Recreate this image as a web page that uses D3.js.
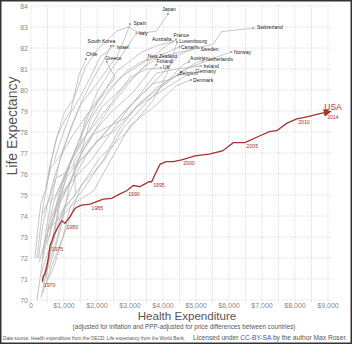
<!DOCTYPE html>
<html lang="en">
<head>
<meta charset="UTF-8">
<title>Life expectancy vs health expenditure</title>
<style>
  body { margin: 0; background: #fff; }
  svg { display: block; font-family: "Liberation Sans", Arial, sans-serif; }
</style>
</head>
<body>
<div class="chart"></div>
<script src="https://d3js.org/d3.v7.min.js"></script>
<script>
var w = 352, h = 344;

// country paths, roughly every 5 years up to 2014 (spending in $, life expectancy in years)
var countries = ["Japan", "Spain", "Italy", "South Korea", "Israel", "Chile", "Greece",
    "Australia", "France", "Luxembourg", "Canada", "Sweden", "Switzerland", "Norway",
    "New Zealand", "Finland", "UK", "Austria", "Netherlands", "Ireland", "Belgium",
    "Germany", "Denmark"];

var spending = [
    [180, 350, 550, 750, 1000, 1300, 1650, 2050, 2600, 2950, 3300, 3800, 4150],
    [120, 200, 300, 450, 600, 900, 1150, 1500, 1950, 2600, 2850, 3000],
    [250, 450, 700, 950, 1300, 1600, 2000, 2400, 2900, 3100, 3200],
    [180, 300, 450, 650, 850, 1200, 1550, 1900, 2200, 2420],
    [700, 900, 1200, 1500, 1800, 2100, 2300, 2500],
    [450, 600, 800, 1000, 1200, 1450, 1667],
    [230, 350, 500, 700, 950, 1250, 1600, 2000, 2550, 2400, 2293],
    [450, 650, 850, 1050, 1300, 1600, 2050, 2600, 3350, 3800, 4303],
    [350, 550, 850, 1150, 1500, 1900, 2400, 2950, 3600, 4000, 4394],
    [350, 600, 850, 1100, 1500, 2100, 2900, 3700, 4100, 4300, 4424],
    [500, 650, 850, 1100, 1400, 1700, 2150, 2700, 3350, 4000, 4500],
    [550, 750, 1000, 1250, 1500, 1650, 2100, 2700, 3500, 4500, 5090],
    [550, 850, 1200, 1500, 2000, 2600, 3300, 4000, 4500, 5000, 5515, 5778, 6740],
    [350, 550, 750, 1000, 1350, 1900, 2900, 3800, 4700, 5500, 6075],
    [550, 700, 850, 1000, 1150, 1500, 1800, 2300, 2900, 3300, 3535],
    [350, 550, 750, 1000, 1350, 1300, 1750, 2400, 3100, 3600, 3800],
    [350, 450, 550, 700, 950, 1250, 1700, 2300, 3000, 3500, 3940],
    [300, 500, 750, 1000, 1600, 2200, 2800, 3500, 4300, 4600, 4790],
    [550, 800, 1100, 1400, 1750, 2000, 2500, 3300, 4600, 5000, 5210],
    [300, 450, 700, 750, 900, 1200, 1800, 2800, 3800, 4400, 5136],
    [350, 550, 750, 1050, 1400, 1750, 2200, 2900, 3700, 4200, 4470],
    [400, 700, 950, 1200, 1600, 2200, 2700, 3200, 4000, 4600, 4879],
    [450, 750, 1000, 1300, 1600, 1900, 2500, 3000, 3800, 4400, 4848]
];

var lifeExp = [
    [72.0, 74.3, 76.1, 77.6, 78.9, 79.6, 81.1, 82.0, 82.8, 83.0, 82.7, 82.8, 83.62],
    [72.0, 73.3, 74.6, 75.3, 76.3, 76.9, 77.9, 79.3, 80.2, 81.6, 82.5, 83.14],
    [71.8, 73.0, 74.0, 75.5, 77.0, 78.2, 79.9, 80.9, 82.0, 82.5, 82.7],
    [70.0, 71.3, 73.3, 75.0, 76.5, 78.2, 79.5, 80.6, 81.4, 82.1],
    [76.6, 77.6, 78.9, 79.7, 80.6, 81.6, 81.8, 82.1],
    [75.4, 76.6, 77.8, 78.5, 79.0, 80.7, 81.48],
    [72.0, 73.5, 74.6, 75.8, 77.0, 77.8, 78.6, 79.5, 80.6, 81.0, 81.35],
    [71.0, 72.8, 74.6, 75.8, 77.0, 78.1, 79.5, 80.9, 81.8, 82.1, 82.31],
    [72.2, 73.5, 74.5, 75.5, 76.9, 78.0, 79.2, 80.3, 81.4, 82.0, 82.4],
    [70.3, 71.5, 72.5, 73.5, 75.4, 76.8, 78.0, 79.5, 80.7, 81.6, 82.29],
    [72.7, 73.8, 75.1, 76.3, 77.3, 77.9, 79.2, 80.0, 81.0, 81.7, 82.06],
    [74.6, 75.0, 75.8, 76.7, 77.5, 78.7, 79.6, 80.6, 81.4, 81.8, 82.0],
    [73.0, 74.8, 75.7, 76.7, 77.5, 78.6, 79.7, 80.8, 81.7, 82.0, 82.17, 82.78, 82.94],
    [74.1, 74.8, 75.8, 76.0, 76.5, 77.9, 78.7, 80.1, 81.0, 81.5, 81.82],
    [71.5, 72.3, 73.1, 74.1, 75.4, 76.9, 78.6, 79.8, 80.9, 81.3, 81.46],
    [70.8, 72.1, 73.7, 74.4, 75.0, 76.6, 77.7, 78.9, 79.9, 80.9, 81.2],
    [71.9, 72.6, 73.7, 74.7, 75.7, 76.7, 77.9, 79.1, 80.6, 81.0, 81.05],
    [70.1, 71.6, 72.7, 74.3, 75.6, 76.6, 78.2, 79.4, 80.7, 81.2, 81.35],
    [73.7, 74.6, 75.9, 76.5, 77.0, 77.6, 78.0, 79.4, 80.9, 81.3, 81.4],
    [71.2, 72.0, 72.9, 73.5, 74.8, 75.6, 76.6, 78.8, 80.8, 81.0, 81.14],
    [71.0, 72.1, 73.3, 74.6, 76.1, 77.1, 77.9, 79.1, 80.3, 80.5, 80.71],
    [70.6, 71.6, 72.9, 74.5, 75.3, 76.7, 78.2, 79.2, 80.0, 80.6, 80.83],
    [73.3, 73.7, 74.1, 74.6, 74.9, 75.2, 76.9, 78.3, 79.3, 80.2, 80.48]
];

// USA, yearly 1970-2014
var usaYears = d3.range(1970, 2015);
var usaSpending = [342, 370, 424, 480, 525, 576, 640, 697, 828, 929,
    1030, 1182, 1333, 1430, 1535, 1788, 1990, 2192, 2444, 2697,
    2899, 3100, 3303, 3485, 3570, 3657, 3780, 3909, 4091, 4313,
    4566, 4970, 5400, 5800, 6130, 6485, 6838, 7222, 7444, 7748,
    8051, 8250, 8455, 8750, 9061];
var usaLife = [70.87, 71.14, 71.24, 71.6, 71.98, 72.6, 72.85, 73.1, 73.5, 73.78,
    73.65, 73.97, 74.36, 74.45, 74.52, 74.57, 74.68, 74.8, 74.84, 75.05,
    75.2, 75.45, 75.4, 75.55, 75.63, 75.63, 76.05, 76.46, 76.59, 76.59,
    76.67, 76.86, 76.95, 77.1, 77.49, 77.49, 77.75, 78.02, 78.06, 78.41,
    78.62, 78.68, 78.76, 78.87, 78.97];
var usaLabelYears = [1970, 1975, 1980, 1985, 1990, 1995, 2000, 2005, 2010];

var xTicks = [0, 1000, 2000, 3000, 4000, 5000, 6000, 7000, 8000, 9000];
var yTicks = d3.range(70, 85);

// label placement next to each end point: [dx, dy, anchor]
var labelPos = {
    "Japan": [1, -3, "middle"], "Spain": [3.5, 1, "start"], "Italy": [2, 2, "start"],
    "South Korea": [4.5, -3.2, "end"], "Israel": [3, 2.6, "start"], "Chile": [0, -3, "start"],
    "Greece": [-1.5, -1.5, "start"], "Australia": [-1.5, 0, "end"], "France": [-2.5, -2.6, "start"],
    "Luxembourg": [2.3, 0.8, "start"], "Canada": [1.5, 2.2, "start"], "Sweden": [1.5, 3, "start"],
    "Switzerland": [3.5, 1.2, "start"], "Norway": [2.5, 1.8, "start"], "New Zealand": [0, -1.2, "start"],
    "Finland": [0, -2.2, "start"], "UK": [2, 1.4, "start"], "Austria": [1, -2, "start"],
    "Netherlands": [3, 0.7, "start"], "Ireland": [3, 1.8, "start"], "Belgium": [1, 0.3, "start"],
    "Germany": [3.5, 0.6, "start"], "Denmark": [2, 1.6, "start"]
};

var svg = d3.select(".chart").append("svg")
    .attr("width", w)
    .attr("height", h);

var x = d3.scaleLinear().domain([0, 9000]).range([31, 328]);
var y = d3.scaleLinear().domain([70, 84]).range([300, 6]);

// shrink a text's font until it is `width` wide
function fitText(sel, width, size) {
    sel.attr("font-size", size);
    var len = sel.node().getComputedTextLength();
    sel.attr("font-size", size * width / len);
}

// grid
var grid = svg.append("g").attr("stroke", "#cfcfcf").attr("stroke-width", 0.7)
    .attr("stroke-dasharray", "1,1");
grid.selectAll("line.v").data(d3.range(0, 9001, 500)).enter().append("line")
    .attr("x1", function(d) { return x(d); }).attr("x2", function(d) { return x(d); })
    .attr("y1", y(70) + 3).attr("y2", y(84));
grid.selectAll("line.h").data(yTicks).enter().append("line")
    .attr("x1", x(0)).attr("x2", x(9150))
    .attr("y1", function(d) { return y(d); }).attr("y2", function(d) { return y(d); });

// tick labels
svg.append("g").selectAll("text").data(yTicks).enter().append("text")
    .attr("x", 28).attr("y", function(d) { return y(d) + 2.5; })
    .attr("text-anchor", "end").attr("font-size", 7).attr("fill", "#888")
    .text(function(d) { return d; });
var fmt = d3.format(",");
svg.append("g").selectAll("text").data(xTicks).enter().append("text")
    .attr("x", function(d) { return x(d); }).attr("y", 308)
    .attr("text-anchor", "middle").attr("font-size", 7).attr("fill", "#888")
    .text(function(d) { return d === 0 ? "0" : "$" + fmt(d); });

// country lines
var line = d3.line()
    .x(function(d) { return x(d[0]); })
    .y(function(d) { return y(d[1]); });

countries.forEach(function(name, i) {
    var pts = d3.zip(spending[i], lifeExp[i]);
    svg.append("path").datum(pts)
        .attr("d", line)
        .attr("fill", "none").attr("stroke", "#b8b8b8").attr("stroke-width", 0.8);
    var last = pts[pts.length - 1];
    svg.append("rect")
        .attr("x", x(last[0]) - 0.9).attr("y", y(last[1]) - 0.9)
        .attr("width", 1.8).attr("height", 1.8).attr("fill", "#999");
    var p = labelPos[name];
    svg.append("text")
        .attr("x", x(last[0]) + p[0]).attr("y", y(last[1]) + p[1])
        .attr("text-anchor", p[2]).attr("font-size", 5).attr("fill", "#222")
        .text(name);
});

// USA
var usaColor = "#a8302e";
svg.append("defs").append("marker")
    .attr("id", "arrow").attr("viewBox", "0 0 10 10")
    .attr("refX", 8).attr("refY", 5)
    .attr("markerWidth", 6).attr("markerHeight", 6)
    .attr("orient", "auto")
    .append("path").attr("d", "M0,0L10,5L0,10z").attr("fill", usaColor);

var usaPts = d3.zip(usaSpending, usaLife);
svg.append("path").datum(usaPts)
    .attr("d", line)
    .attr("fill", "none").attr("stroke", usaColor).attr("stroke-width", 1.3)
    .attr("marker-end", "url(#arrow)");

svg.append("g").selectAll("text").data(usaLabelYears).enter().append("text")
    .attr("x", function(d) { return x(usaSpending[d - 1970]) + 1.5; })
    .attr("y", function(d) { return y(usaLife[d - 1970]) + 5.5; })
    .attr("font-size", 5.2).attr("fill", usaColor)
    .text(function(d) { return d; });

var lastUsa = usaPts[usaPts.length - 1];
svg.append("text").attr("x", x(lastUsa[0]) + 3).attr("y", y(lastUsa[1]) - 1.5)
    .attr("text-anchor", "middle").attr("font-size", 8.5).attr("fill", usaColor).text("USA");
svg.append("text").attr("x", x(lastUsa[0]) + 3).attr("y", y(lastUsa[1]) + 7)
    .attr("text-anchor", "middle").attr("font-size", 5).attr("fill", usaColor).text("2014");

// axis titles
svg.append("text")
    .attr("transform", "translate(17,126) rotate(-90)")
    .attr("text-anchor", "middle").attr("font-size", 14).attr("fill", "#555")
    .text("Life Expectancy");
svg.append("text")
    .attr("x", 187).attr("y", 319.8)
    .attr("text-anchor", "middle").attr("font-size", 11.6).attr("fill", "#555")
    .text("Health Expenditure");
var sub = svg.append("text")
    .attr("x", 184).attr("y", 329)
    .attr("text-anchor", "middle").attr("fill", "#555")
    .text("(adjusted for inflation and PPP-adjusted for price differences between countries)");
fitText(sub, 223, 6);

// footer
var src = svg.append("text")
    .attr("x", 3).attr("y", 340).attr("fill", "#555")
    .text("Data source: Health expenditure from the OECD; Life expectancy from the World Bank.");
fitText(src, 182, 5.2);
var lic = svg.append("text")
    .attr("x", 193).attr("y", 340).attr("fill", "#555");
lic.append("tspan").text("Licensed under ");
lic.append("tspan").attr("fill", "#3a57a7").text("CC-BY-SA");
lic.append("tspan").text(" by the author Max Roser.");
fitText(lic, 154, 5.2);

// outer frame
svg.append("rect")
    .attr("x", 0.75).attr("y", 0.75).attr("width", w - 1.5).attr("height", h - 1.5)
    .attr("fill", "none").attr("stroke", "#333").attr("stroke-width", 1.5);
</script>
</body>
</html>
